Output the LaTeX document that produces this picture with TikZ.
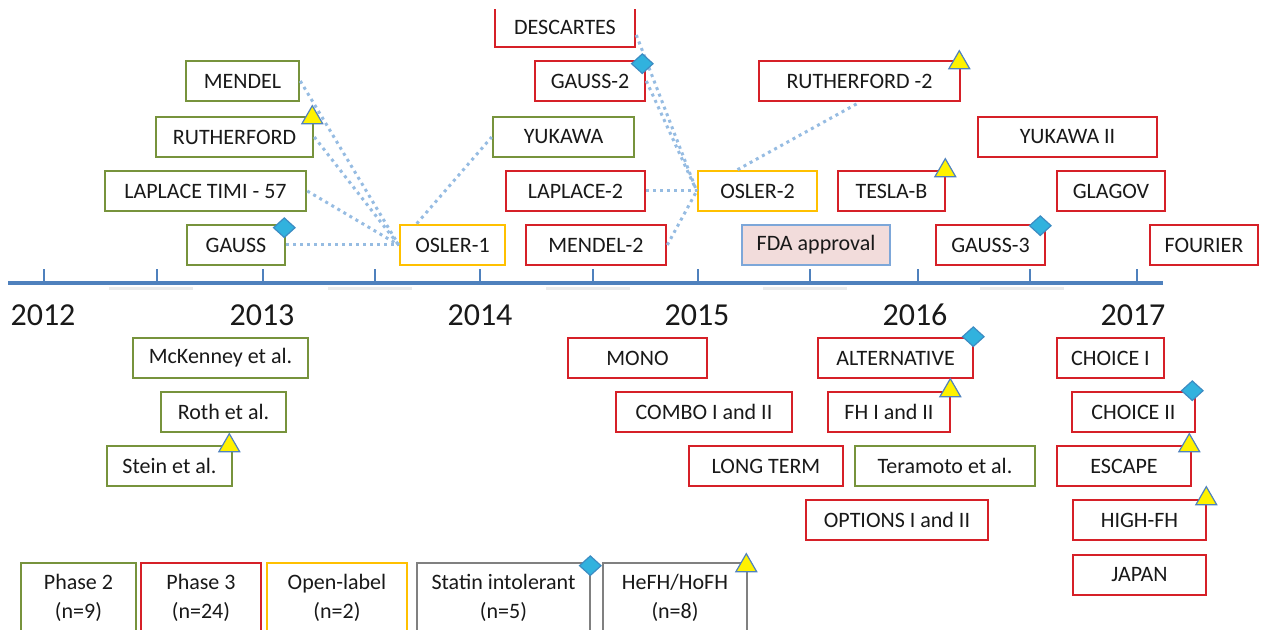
\documentclass[tikz,border=0pt]{standalone}
\usepackage{fontspec}
\setmainfont{Carlito}
\usepackage{tikz}
\usetikzlibrary{shapes.geometric,positioning}
\definecolor{ph2}{RGB}{119,147,60}
\definecolor{ph3}{RGB}{214,32,40}
\definecolor{open}{RGB}{255,192,0}
\definecolor{axisblue}{RGB}{79,129,189}
\definecolor{linkblue}{RGB}{150,188,226}
\definecolor{fdafill}{RGB}{242,220,219}
\definecolor{fdaline}{RGB}{125,167,217}
\definecolor{diafill}{RGB}{49,178,222}
\definecolor{diaedge}{RGB}{60,140,195}

\begin{document}
\begin{tikzpicture}[x=0.5pt,y=-0.5pt,
	trial/.style={draw=#1, line width=1.3pt, fill=white, text=black!90, minimum height=20pt, inner sep=2pt, font=\fontsize{11}{13}\selectfont},
	bw/.style={minimum width=#1*0.5pt},
	legendbox/.style={trial=#1, minimum height=35pt, align=center, font=\fontsize{11}{14.5}\selectfont},
	statmark/.style={diamond, draw=diaedge, fill=diafill, line width=0.6pt, inner sep=0pt, minimum width=11pt, minimum height=10pt},
	fhmark/.style={regular polygon, regular polygon sides=3, draw=axisblue, fill=yellow, line width=0.6pt, inner sep=0pt, minimum size=12pt},
	link/.style={linkblue, line width=1.5pt, dotted},
	axisline/.style={axisblue, line width=1.8pt},
	axshade/.style={black!8, line width=1.5pt},
	year/.style={text=black!90, font=\fontsize{16}{18}\selectfont}]
	\useasboundingbox (0,0) rectangle (1265,630);
	\clip (0,10) rectangle (1265,640);

	% time axis
	\foreach \x in {151,370,588,805,1022}
		\draw[axshade] (\x-42,289) -- (\x+42,289);
	\coordinate (axstart) at (8,283);
	\coordinate (axend) at (1163,283);
	\draw[axisline] (axstart) -- (axend);
	\foreach \x in {44,157,263,375,480,593,698,810,918,1030,1137}
		\draw[axisblue, line width=1.4pt] (\x,283) -- (\x,269);
	\foreach \x/\yr in {43/2012,262/2013,480/2014,697/2015,915/2016,1133/2017}
		\node[year] (y\yr) at (\x,315) {\yr};

	% above the axis
	\node[trial=ph2, bw=98] (gauss) at (236,245) {GAUSS};
	\node[trial=ph2, bw=201] (laplace) at (205.5,191) {LAPLACE TIMI - 57};
	\node[trial=ph2, bw=157] (rutherford) at (234.5,137) {RUTHERFORD};
	\node[trial=ph2, bw=113] (mendel) at (242.5,81) {MENDEL};
	\node[trial=open, bw=105] (osler1) at (452.5,245) {OSLER-1};
	\node[trial=ph2, bw=141] (yukawa) at (563.5,137) {YUKAWA};
	\node[trial=ph3, bw=140] (descartes) at (565,27) {DESCARTES};
	\node[trial=ph3, bw=110] (gauss2) at (590,81) {GAUSS-2};
	\node[trial=ph3, bw=139] (laplace2) at (575.5,191) {LAPLACE-2};
	\node[trial=ph3, bw=140] (mendel2) at (596,245) {MENDEL-2};
	\node[trial=open, bw=119] (osler2) at (757.5,191) {OSLER-2};
	\node[trial=fdaline, fill=fdafill, bw=148] (fda) at (816,245) {FDA approval};
	\node[trial=ph3, bw=201] (rutherford2) at (859.5,81) {RUTHERFORD -2};
	\node[trial=ph3, bw=107] (teslab) at (891.5,191) {TESLA-B};
	\node[trial=ph3, bw=179] (yukawa2) at (1067.5,137) {YUKAWA II};
	\node[trial=ph3, bw=108] (glagov) at (1111,191) {GLAGOV};
	\node[trial=ph3, bw=109] (gauss3) at (990.5,245) {GAUSS-3};
	\node[trial=ph3, bw=108] (fourier) at (1204,245) {FOURIER};

	% below the axis
	\node[trial=ph2, bw=175] (mckenney) at (220.5,358) {McKenney et al.};
	\node[trial=ph2, bw=125] (roth) at (223.5,412) {Roth et al.};
	\node[trial=ph2, bw=125] (stein) at (169.5,466) {Stein et al.};
	\node[trial=ph3, bw=139] (mono) at (637.5,358) {MONO};
	\node[trial=ph3, bw=176] (combo) at (704,412) {COMBO I and II};
	\node[trial=ph3, bw=154] (longterm) at (766,466) {LONG TERM};
	\node[trial=ph3, bw=182] (options) at (897,520) {OPTIONS I and II};
	\node[trial=ph3, bw=155] (alternative) at (895.5,358) {ALTERNATIVE};
	\node[trial=ph3, bw=122] (fh) at (889,412) {FH I and II};
	\node[trial=ph2, bw=180] (teramoto) at (945,466) {Teramoto et al.};
	\node[trial=ph3, bw=107] (choice1) at (1110.5,358) {CHOICE I};
	\node[trial=ph3, bw=123] (choice2) at (1133.5,412) {CHOICE II};
	\node[trial=ph3, bw=134] (escape) at (1124,466) {ESCAPE};
	\node[trial=ph3, bw=133] (highfh) at (1139.5,520) {HIGH-FH};
	\node[trial=ph3, bw=133] (japan) at (1139.5,575) {JAPAN};

	% legend
	\node[legendbox=ph2, bw=115] (legph2) at (78.5,598) {Phase 2\\(n=9)};
	\node[legendbox=ph3, bw=120] (legph3) at (201,598) {Phase 3\\(n=24)};
	\node[legendbox=open, bw=140] (legopen) at (337,598) {Open-label\\(n=2)};
	\node[legendbox=black!50, bw=173] (legstatin) at (503.5,598) {Statin intolerant\\(n=5)};
	\node[legendbox=black!50, bw=144] (legfh) at (675,598) {HeFH/HoFH\\(n=8)};

	% links to the open-label studies
	\draw[link] (mendel.east) -- (osler1.west);
	\draw[link] (rutherford.east) -- (osler1.west);
	\draw[link] (laplace.east) -- (osler1.west);
	\draw[link] (gauss.east) -- (osler1.west);
	\draw[link] ([xshift=9pt]osler1.north west) -- (yukawa.west);
	\draw[link] ([yshift=-4pt]descartes.east) -- (osler2.west);
	\draw[link] (gauss2.east) -- (osler2.west);
	\draw[link] (laplace2.east) -- (osler2.west);
	\draw[link] (mendel2.east) -- (osler2.west);
	\draw[link] ([xshift=-10pt]osler2.north) -- (rutherford2.south);

	% statin intolerant and HeFH/HoFH marks
	\node[statmark] (mgauss) at ([xshift=-1pt,yshift=-2pt]gauss.north east) {};
	\node[statmark] (mgauss2) at ([xshift=-2pt,yshift=-2pt]gauss2.north east) {};
	\node[statmark] (mgauss3) at ([xshift=-3pt,yshift=-1pt]gauss3.north east) {};
	\node[statmark] (malternative) at ([xshift=-0.5pt,yshift=0pt]alternative.north east) {};
	\node[statmark] (mchoice2) at ([xshift=-2pt,yshift=0pt]choice2.north east) {};
	\node[statmark] (mlegstatin) at ([xshift=-0.5pt,yshift=-2pt]legstatin.north east) {};
	\node[fhmark] (mrutherford) at ([xshift=-1pt,yshift=-1pt]rutherford.north east) {};
	\node[fhmark] (mrutherford2) at ([xshift=-1pt,yshift=-1.5pt]rutherford2.north east) {};
	\node[fhmark] (mteslab) at ([xshift=-0.5pt,yshift=-0.5pt]teslab.north east) {};
	\node[fhmark] (mstein) at ([xshift=-2pt,yshift=-0.5pt]stein.north east) {};
	\node[fhmark] (mfh) at ([xshift=-0.5pt,yshift=0pt]fh.north east) {};
	\node[fhmark] (mescape) at ([xshift=-1.5pt,yshift=-0.5pt]escape.north east) {};
	\node[fhmark] (mhighfh) at ([xshift=-0.5pt,yshift=0pt]highfh.north east) {};
	\node[fhmark] (mlegfh) at ([xshift=-1pt,yshift=-2pt]legfh.north east) {};
\end{tikzpicture}
\end{document}
